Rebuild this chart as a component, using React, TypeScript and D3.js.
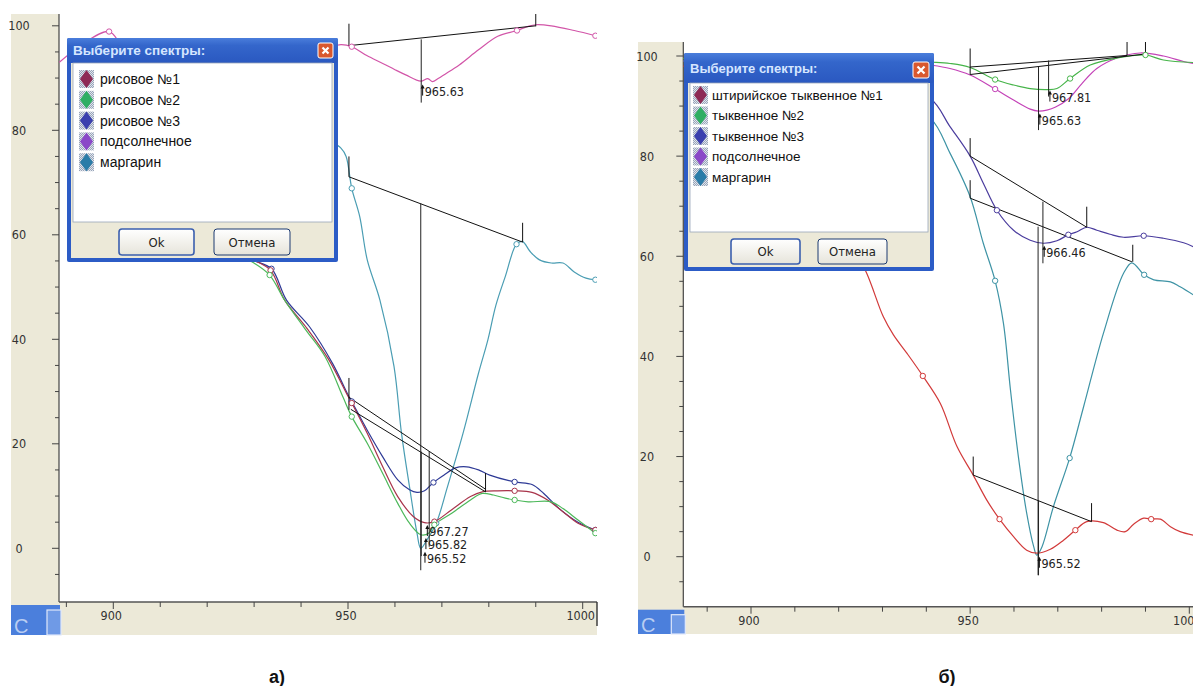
import React from "react";
import * as d3 from "d3";

type Pt = [number, number];
type Seg = [number, number, number];

// ---------- panel а) : rice oils ----------
const aSunflower: Pt[] = [
  [888.5, 93.0], [893, 96.2], [899.1, 98.9], [902, 96.0], [906, 93.5], [915, 92.0], [928, 92.8],
  [940, 94.6], [945, 95.6], [948.5, 96.4], [950.8, 96.0], [954, 94.3], [957.4, 92.8], [960, 91.6], [962.3, 90.6],
  [965.5, 89.4], [967.0, 89.9], [968.0, 89.3], [969.2, 89.9], [970.6, 90.7], [973.7, 92.5], [977.8, 95.4],
  [981.9, 98.0], [986, 99.1], [988.4, 99.9], [990, 100.2], [993.3, 100.0], [998.2, 99.1], [1002.7, 98.1],
];
const aMargarine: Pt[] = [
  [892, 88], [900, 87.5], [910, 86.5], [920, 85], [930, 83], [940, 80.5], [946, 78], [948.5, 76.6],
  [949.6, 75.0], [950.8, 68.9], [952.5, 63.5], [954.1, 55.2], [956.8, 47.5], [959.8, 34.8], [961.4, 22],
  [963.1, 11.8], [964.7, 2.9], [965.5, 0.0], [966.8, 1.6], [968.8, 4.8], [971.2, 11.8], [974.5, 22],
  [977.8, 33.5], [979.8, 39.9], [981.5, 46.5], [983.5, 52], [985.9, 58.2], [987.2, 58.7], [988.8, 56.8],
  [990.8, 55.2], [993.3, 54.6], [995.8, 54.6], [998.2, 52.9], [1000.7, 51.7], [1002.7, 51.4],
];
const aRice1: Pt[] = [
  [892, 77], [900, 72.5], [910, 66.5], [920, 60.5], [926, 56.8], [929.6, 55.3], [933.5, 53.2],
  [936.5, 47.5], [941, 42.4], [945.9, 36.1], [950, 29.1], [950.8, 27.8], [954.1, 22], [957.4, 15.6],
  [960.6, 9.9], [963.9, 6.1], [966.3, 4.9], [968.4, 5.1], [972.1, 7.4], [976.1, 9.9], [978.6, 10.8],
  [981.9, 11], [985.5, 11], [989.2, 10.7], [992.5, 9.25], [995.8, 7], [999, 4.8], [1002.7, 3.5],
];
const aRice2: Pt[] = [
  [892, 76], [900, 72], [910, 66], [920, 60], [926, 56.5], [929.6, 54.8], [933.3, 52.3],
  [936.5, 47.5], [941, 41.8], [945.1, 36.7], [949, 28.8], [950.8, 25.2], [954.1, 20.1], [957.4, 14.3],
  [960.6, 8.6], [963.1, 4.8], [965.5, 2.6], [967.2, 2.9], [968.4, 4.5], [972.1, 6.7], [976.1, 9.25],
  [978.6, 10.5], [981, 10.2], [983.5, 9.6], [985.5, 9.25], [988.4, 8.9], [993.3, 8.9], [995.8, 7.6],
  [999, 5.4], [1002.7, 2.9],
];
const aRice3: Pt[] = [
  [892, 77.5], [900, 73], [910, 67], [920, 61], [926, 57], [929.6, 55.2], [933.7, 53.5],
  [936.9, 47.5], [941.8, 42.4], [946.7, 35.4], [950, 29.4], [950.8, 28.1], [954.1, 22.6], [957.4, 17.5],
  [960.6, 13.1], [963.1, 11.2], [964.7, 10.7], [966.3, 11], [968.2, 12.6], [970.4, 14], [972.9, 15.4],
  [975.3, 15.6], [977.8, 15], [980.2, 14], [985.5, 12.7], [989.2, 12.2], [991.7, 10.5], [995, 7.6],
  [999, 5], [1002.7, 3.5],
];
const aBaselines: [Pt, Pt][] = [
  [[950.2, 96.2], [990, 100.0]],
  [[950.2, 71.1], [987.2, 58.6]],
  [[950.2, 28.9], [979.3, 11.3]],
  [[950.6, 26.6], [979.3, 10.8]],
];
const aBaseTicks: Seg[] = [
  [950.2, 96.2, 100.4], [990, 99.9, 102.3], [950.2, 71.1, 75.0], [987.2, 58.6, 62.3],
  [950.2, 26.5, 32.6], [979.3, 10.8, 14.4],
];
const aPeakLines: Seg[] = [
  [965.6, 85.3, 97.4], [965.5, -4.2, 66.0], [965.6, -1.5, 18.5], [967.3, 0.3, 18.6],
];
const aPeakLabels: { x: number; y: number; text: string }[] = [
  { x: 965.9, y: 87.6, text: "965.63" },
  { x: 966.9, y: 3.3, text: "967.27" },
  { x: 966.6, y: 0.8, text: "965.82" },
  { x: 966.4, y: -1.8, text: "965.52" },
];
const aNames = ["рисовое  №1", "рисовое  №2", "рисовое  №3", "подсолнечное", "маргарин"];

// ---------- panel б) : pumpkin oils ----------
const bSunflower: Pt[] = [
  [884.5, 99], [900, 99.5], [920, 99.3], [935, 98.8], [940.9, 98.2], [945.4, 97.5], [950, 96.2],
  [955.7, 93.4], [959.9, 91.2], [963.7, 89.4], [965.6, 89.0], [967.5, 89.2], [969.5, 89.8], [972.5, 91.5],
  [975.5, 94.5], [978.9, 97.5], [983.5, 99.6], [988.8, 100.6], [994.1, 100], [998.7, 98.9], [1000.9, 98.5],
];
const bPumpkin2: Pt[] = [
  [884.5, 99.5], [900, 99.8], [920, 99.5], [935, 99.1], [940.9, 98.8], [945.4, 98.5], [950, 97.7],
  [955.7, 95.3], [959.9, 94.2], [963.7, 93.5], [967.5, 93.3], [969.8, 93.5], [972.8, 95.5], [977.4, 98.2],
  [983.5, 99.6], [990, 100.2], [994.1, 99.2], [1000.9, 98.7],
];
const bPumpkin3: Pt[] = [
  [884.5, 99], [900, 98.5], [915, 97], [930, 94.5], [940.9, 91.5], [945.4, 85.9], [950, 80],
  [953, 74.6], [956.1, 69.2], [959.9, 65.2], [963.7, 63.2], [966.7, 62.6], [969.8, 63.1], [972.4, 64.3],
  [974.4, 64.9], [976.6, 65.8], [978.9, 65.2], [981.9, 64.4], [985, 63.8], [989.6, 64.1], [994.1, 63.6],
  [998.7, 62.7], [1000.9, 61.9],
];
const bMargarine: Pt[] = [
  [884.5, 99], [900, 98.6], [915, 96.5], [930, 92], [940.9, 87.6], [945.4, 80.6], [950, 71.9],
  [953, 62.6], [955.7, 55.1], [957.6, 46.6], [959.2, 33.3], [961, 20], [962.9, 8.7], [964.5, 2],
  [965.2, 0.3], [966.4, 2], [969, 10], [972.7, 19.7], [975.9, 30], [980.4, 44.6], [985, 56.6],
  [986.9, 58.7], [989.7, 56.3], [991.9, 55.3], [995.7, 54.9], [997.9, 53.9], [1000.9, 52.3],
];
const bStyrian1: Pt[] = [
  [884.5, 98], [895, 95], [905, 88], [915, 76], [921, 66], [926.4, 56.6], [930.2, 47.9], [932.5, 44.3],
  [935.6, 40.6], [939.2, 36.1], [943.2, 30.6], [947, 22], [950.7, 16.3], [953.8, 11.3], [956.7, 7.5],
  [959.9, 4], [962.9, 1.3], [965.2, 0.7], [968.3, 1.5], [971.3, 3.3], [974, 5.3], [976.6, 7],
  [980.4, 6.8], [983.5, 5.3], [985.4, 5], [987.3, 6.5], [989.6, 7.7], [991.3, 7.5], [993.4, 7.5],
  [995.7, 6], [997.9, 5], [1000.9, 4.3],
];
const bBaselines: [Pt, Pt][] = [
  [[950, 97.8], [985.8, 100.1]],
  [[950, 96.3], [990, 100.4]],
  [[950, 80], [976.6, 65.8]],
  [[950, 71.6], [986.9, 58.9]],
  [[950.7, 16.3], [977.7, 7]],
];
const bBaseTicks: Seg[] = [
  [950, 96.3, 101.5], [985.8, 100.1, 102.8], [990, 100.4, 102.8], [950, 80, 83.6], [976.6, 65.8, 69.9],
  [950, 71.6, 75.2], [987.1, 58.9, 62.3], [950.7, 16.3, 20], [977.7, 7, 10.7],
];
const bPeakLines: Seg[] = [
  [965.6, 85.2, 97.9], [967.9, 91.9, 99.1], [966.6, 58.6, 70.9], [965.5, -3.7, 65.9], [965.6, -3.7, 11.3],
];
const bPeakLabels: { x: number; y: number; text: string }[] = [
  { x: 965.9, y: 87.3, text: "965.63" },
  { x: 968.2, y: 91.9, text: "967.81" },
  { x: 966.9, y: 60.9, text: "966.46" },
  { x: 965.8, y: -1.2, text: "965.52" },
];
const bNames = ["штирийское тыквенное  №1", "тыквенное №2", "тыквенное  №3", "подсолнечное", "маргарин"];

// ---------- shared ----------
const legendColors = ["#8e2a55", "#2fae63", "#3a3fae", "#8a48c8", "#2a7ca8"];
const xTicks = [890, 900, 910, 920, 930, 940, 950, 960, 970, 980, 990, 1000];
const xTickLabels = [900, 950, 1000];
const yTicks = [-5, 0, 5, 10, 15, 20, 25, 30, 35, 40, 45, 50, 55, 60, 65, 70, 75, 80, 85, 90, 95, 100];
const yTickLabels = [0, 20, 40, 60, 80, 100];

const BEIGE = "#ECE9D8";
const NARROW = "'Liberation Sans Narrow', 'DejaVu Sans Condensed', 'Arial Narrow', 'Liberation Sans', sans-serif";
const SANS = "'Liberation Sans', Arial, sans-serif";

interface Series { pts: Pt[]; color: string; marks: number[] }
interface DialogCfg {
  x: number; y: number; w: number; h: number; titleH: number; listBottom: number;
  rowY0: number; rowStep: number; iconX: number; textX: number; fontSize: number; titleSize: number;
  closeX: number; closeY: number; closeS: number;
  btnY: number; btnH: number; okX: number; okW: number; cancelX: number; cancelW: number;
  names: string[];
}
interface PanelCfg {
  key: string; left: number; plotLeft: number; right: number; top: number; axisY: number; bottom: number;
  xRange: [number, number]; yRange: [number, number]; yLabelX: number;
  series: Series[]; baselines: [Pt, Pt][]; baseTicks: Seg[]; peakLines: Seg[];
  peakLabels: { x: number; y: number; text: string }[];
  dialog: DialogCfg; caption: string; captionX: number; endBar: boolean;
}

const panels: PanelCfg[] = [
  {
    key: "a", left: 11, plotLeft: 59, right: 597, top: 14, axisY: 602, bottom: 635,
    xRange: [113.3, 582.7], yRange: [548.3, 25.8], yLabelX: 19,
    series: [
      { pts: aSunflower, color: "#d255a8", marks: [899.1, 950.8, 986, 1002.7] },
      { pts: aMargarine, color: "#4a9db3", marks: [950.8, 968.8, 985.9, 1002.7] },
      { pts: aRice3, color: "#2e3a96", marks: [933.7, 950.8, 968.2, 985.5, 1002.7] },
      { pts: aRice1, color: "#a8334a", marks: [933.5, 950.8, 968.4, 985.5, 1002.7] },
      { pts: aRice2, color: "#4cb85a", marks: [933.3, 950.8, 968.4, 985.5, 1002.7] },
    ],
    baselines: aBaselines, baseTicks: aBaseTicks, peakLines: aPeakLines, peakLabels: aPeakLabels,
    dialog: {
      x: 67, y: 38, w: 271, h: 224, titleH: 25, listBottom: 184, rowY0: 41, rowStep: 20.8,
      iconX: 13, textX: 33, fontSize: 14, titleSize: 13.5, closeX: 251, closeY: 5, closeS: 15,
      btnY: 191, btnH: 26, okX: 52, okW: 75, cancelX: 147, cancelW: 76, names: aNames,
    },
    caption: "а)", captionX: 277, endBar: true,
  },
  {
    key: "b", left: 638, plotLeft: 683.3, right: 1193, top: 42, axisY: 606.7, bottom: 634,
    xRange: [751, 1189.3], yRange: [556.7, 56], yLabelX: 647,
    series: [
      { pts: bSunflower, color: "#c443b8", marks: [955.7] },
      { pts: bPumpkin2, color: "#46b449", marks: [955.7, 972.8, 990] },
      { pts: bPumpkin3, color: "#4b3d9e", marks: [956.1, 972.4, 989.6] },
      { pts: bMargarine, color: "#3e93a5", marks: [955.7, 972.7, 989.7] },
      { pts: bStyrian1, color: "#d23a3a", marks: [939.2, 956.7, 974, 991.3] },
    ],
    baselines: bBaselines, baseTicks: bBaseTicks, peakLines: bPeakLines, peakLabels: bPeakLabels,
    dialog: {
      x: 684, y: 53, w: 250, h: 218, titleH: 30, listBottom: 179, rowY0: 42, rowStep: 20.5,
      iconX: 10, textX: 28, fontSize: 13.5, titleSize: 13, closeX: 229, closeY: 9, closeS: 16,
      btnY: 186, btnH: 25, okX: 47, okW: 69, cancelX: 134, cancelW: 69, names: bNames,
    },
    caption: "б)", captionX: 947, endBar: false,
  },
];

function Dialog({ d, id }: { d: DialogCfg; id: string }) {
  const b = 4;
  return (
    <g transform={`translate(${d.x},${d.y})`}>
      <defs>
        <linearGradient id={`tb-${id}`} x1="0" y1="0" x2="0" y2="1">
          <stop offset="0" stopColor="#4a7ddb" />
          <stop offset="0.3" stopColor="#3466cb" />
          <stop offset="1" stopColor="#2a58c0" />
        </linearGradient>
        <linearGradient id={`btn-${id}`} x1="0" y1="0" x2="0" y2="1">
          <stop offset="0" stopColor="#ffffff" />
          <stop offset="1" stopColor="#e6e4da" />
        </linearGradient>
        <pattern id={`chk-${id}`} width="2" height="2" patternUnits="userSpaceOnUse">
          <rect width="2" height="2" fill="#d8dee8" />
          <rect width="1" height="1" fill="#7f8fa8" />
          <rect x="1" y="1" width="1" height="1" fill="#7f8fa8" />
        </pattern>
      </defs>
      <rect x={0} y={0} width={d.w} height={d.h} fill="#2c5cc6" rx={2} />
      <rect x={0} y={0} width={d.w} height={d.titleH} fill={`url(#tb-${id})`} rx={2} />
      <text x={6} y={d.titleH / 2 + d.titleSize * 0.36} fontFamily={SANS} fontWeight="bold"
        fontSize={d.titleSize} fill="#d6e6ff">Выберите спектры:</text>
      <rect x={d.closeX} y={d.closeY} width={d.closeS} height={d.closeS} rx={2} fill="#d9582e" stroke="#fff" strokeWidth={1} />
      <path d={`M${d.closeX + 4.5},${d.closeY + 4.5} L${d.closeX + d.closeS - 4.5},${d.closeY + d.closeS - 4.5} M${d.closeX + d.closeS - 4.5},${d.closeY + 4.5} L${d.closeX + 4.5},${d.closeY + d.closeS - 4.5}`}
        stroke="#fff" strokeWidth={2.2} />
      <rect x={b} y={d.titleH} width={d.w - 2 * b} height={d.h - d.titleH - b} fill={BEIGE} />
      <rect x={b + 2} y={d.titleH} width={d.w - 2 * b - 4} height={d.listBottom - d.titleH} fill="#fff" stroke="#9aa6b8" strokeWidth={0.8} />
      {d.names.map((n, i) => {
        const cy = d.rowY0 + i * d.rowStep;
        const ix = d.iconX;
        return (
          <g key={n}>
            <rect x={ix - 1} y={cy - 9} width={15} height={18} fill={`url(#chk-${id})`} opacity={0.8} />
            <path d={`M${ix + 6.5},${cy - 9} L${ix + 13},${cy} L${ix + 6.5},${cy + 9} L${ix},${cy} Z`}
              fill={legendColors[i]} />
            <text x={d.textX} y={cy + d.fontSize * 0.35} fontFamily={SANS} fontSize={d.fontSize} fill="#111">{n}</text>
          </g>
        );
      })}
      {[{ x: d.okX, w: d.okW, t: "Ok" }, { x: d.cancelX, w: d.cancelW, t: "Отмена" }].map((bt) => (
        <g key={bt.t}>
          <rect x={bt.x} y={d.btnY} width={bt.w} height={d.btnH} rx={3} fill={`url(#btn-${id})`}
            stroke={bt.t === "Ok" ? "#3b5fae" : "#1c3a70"} strokeWidth={bt.t === "Ok" ? 1.6 : 1} />
          <text x={bt.x + bt.w / 2} y={d.btnY + d.btnH / 2 + 4.5} textAnchor="middle" fontFamily={NARROW}
            fontSize={13} fill="#222">{bt.t}</text>
        </g>
      ))}
    </g>
  );
}

function Panel({ p }: { p: PanelCfg }) {
  const x = d3.scaleLinear().domain([900, 1000]).range(p.xRange);
  const y = d3.scaleLinear().domain([0, 100]).range(p.yRange);
  const line = d3.line<Pt>().x((d) => x(d[0])).y((d) => y(d[1])).curve(d3.curveCatmullRom.alpha(0.5));
  const clipId = `clip-${p.key}`;
  const nearest = (pts: Pt[], mx: number) =>
    pts.reduce((b, d) => (Math.abs(d[0] - mx) < Math.abs(b[0] - mx) ? d : b));

  return (
    <g>
      <defs>
        <clipPath id={clipId}>
          <rect x={p.plotLeft} y={p.top} width={p.right - p.plotLeft} height={p.axisY - p.top} />
        </clipPath>
      </defs>
      <rect x={p.left} y={p.top} width={p.plotLeft - p.left} height={p.bottom - p.top} fill={BEIGE} />
      <rect x={p.plotLeft} y={p.axisY} width={p.right - p.plotLeft} height={p.bottom - p.axisY} fill={BEIGE} />

      {/* taskbar fragment */}
      <rect x={p.left} y={p.axisY + 3} width={p.plotLeft - p.left + 1} height={p.bottom - p.axisY - 3} fill="#4b7fdc" />
      <text x={p.left + 3} y={p.bottom - 2} fontFamily={SANS} fontSize={20} fill="#b9cdf2">C</text>
      <rect x={p.plotLeft - 12} y={p.axisY + 8} width={14} height={p.bottom - p.axisY - 8} fill="#6f9ae6" stroke="#dfe8fa" strokeWidth={1.2} />

      {/* axes */}
      <line x1={p.plotLeft} x2={p.plotLeft} y1={p.top} y2={p.axisY} stroke="#444" strokeWidth={1.2} />
      <line x1={p.plotLeft} x2={p.right} y1={p.axisY} y2={p.axisY} stroke="#555" strokeWidth={1.6} />
      {yTicks.map((t) => (
        <line key={t} x1={p.plotLeft - (t % 20 === 0 ? 7 : 4)} x2={p.plotLeft} y1={y(t)} y2={y(t)} stroke="#444" />
      ))}
      {yTickLabels.map((t) => (
        <text key={t} x={p.yLabelX} y={y(t) + 4.5} textAnchor="middle" fontFamily={NARROW} fontSize={12.5} fill="#333">{t}</text>
      ))}
      {xTicks.filter((t) => x(t) > p.plotLeft && x(t) <= p.right).map((t) => (
        <line key={t} x1={x(t)} x2={x(t)} y1={p.axisY} y2={p.axisY + (xTickLabels.includes(t) ? 7 : 5)} stroke="#444" />
      ))}
      {xTickLabels.map((t) => (
        <text key={t} x={x(t) - 2} y={p.axisY + 18} textAnchor="middle" fontFamily={NARROW} fontSize={12.5} fill="#333">{t}</text>
      ))}
      {p.endBar && <line x1={p.right} x2={p.right} y1={p.axisY} y2={p.axisY + 24} stroke="#333" strokeWidth={1.4} />}

      <g clipPath={`url(#${clipId})`}>
        {p.series.map((s, i) => (
          <path key={i} d={line(s.pts) || ""} fill="none" stroke={s.color} strokeWidth={1.2} />
        ))}
        {p.baselines.map((b, i) => (
          <line key={i} x1={x(b[0][0])} y1={y(b[0][1])} x2={x(b[1][0])} y2={y(b[1][1])} stroke="#111" strokeWidth={1} />
        ))}
        {p.baseTicks.map((t, i) => (
          <line key={i} x1={x(t[0])} x2={x(t[0])} y1={y(t[1])} y2={y(t[2])} stroke="#111" strokeWidth={1} />
        ))}
        {p.peakLines.map((t, i) => (
          <line key={i} x1={x(t[0])} x2={x(t[0])} y1={y(t[1])} y2={y(t[2])} stroke="#222" strokeWidth={1} />
        ))}
        {p.series.map((s, i) =>
          s.marks.map((m) => {
            const d = nearest(s.pts, m);
            return <circle key={`${i}-${m}`} cx={x(d[0])} cy={y(d[1])} r={2.7} fill="#fff" stroke={s.color} strokeWidth={1} />;
          })
        )}
        {p.peakLabels.map((l) => (
          <g key={l.text + l.y}>
            <path d={`M${x(l.x)},${y(l.y) + 5} L${x(l.x)},${y(l.y) - 3}`} stroke="#111" strokeWidth={1} />
            <path d={`M${x(l.x) - 2},${y(l.y) - 2} L${x(l.x)},${y(l.y) - 6} L${x(l.x) + 2},${y(l.y) - 2} Z`} fill="#111" />
            <text x={x(l.x) + 2} y={y(l.y) + 5} fontFamily={NARROW} fontSize={12.5} fill="#222">{l.text}</text>
          </g>
        ))}
      </g>

      <Dialog d={p.dialog} id={p.key} />

      <text x={p.captionX} y={683} textAnchor="middle" fontFamily={SANS} fontWeight="bold" fontSize={18} fill="#111">{p.caption}</text>
    </g>
  );
}

export default function App() {
  return (
    <svg width={1193} height={686} style={{ position: "absolute", left: 0, top: 0, background: "#fff" }}>
      <rect width={1193} height={686} fill="#fff" />
      {panels.map((p) => (
        <Panel key={p.key} p={p} />
      ))}
    </svg>
  );
}
